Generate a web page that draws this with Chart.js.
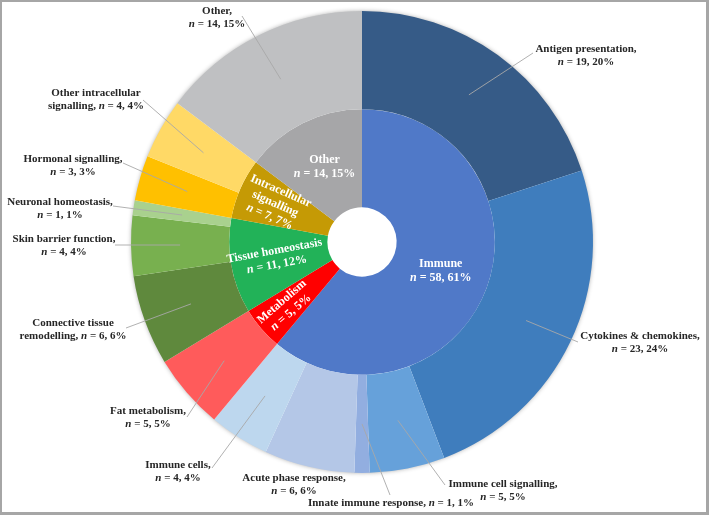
<!DOCTYPE html>
<html>
<head>
<meta charset="utf-8">
<script src="https://cdn.jsdelivr.net/npm/chart.js@4/dist/chart.umd.min.js"></script>
<style>
  html, body { margin: 0; padding: 0; background: #ffffff; }
  canvas { display: block; }
</style>
</head>
<body>
<canvas id="c" width="709" height="515"></canvas>
<script>
// ---------- DATA ----------
const innerLabels = ['Immune', 'Metabolism', 'Tissue homeostasis', 'Intracellular signalling', 'Other'];
const innerValues = [58, 5, 11, 7, 14];

const outerLabels = ['Antigen presentation', 'Cytokines & chemokines', 'Immune cell signalling',
  'Innate immune response', 'Acute phase response', 'Immune cells', 'Fat metabolism',
  'Connective tissue remodelling', 'Skin barrier function', 'Neuronal homeostasis',
  'Hormonal signalling', 'Other intracellular signalling', 'Other'];
const outerValues = [19, 23, 5, 1, 6, 4, 5, 6, 4, 1, 3, 4, 14];

// ---------- STYLE ----------
const innerColors = ['#5079C8', '#FF0000', '#22B258', '#C59A05', '#A6A6A8'];
const outerColors = ['#365B87', '#3F7DBD', '#66A1DA', '#92AEE0', '#B4C7E7', '#BDD7EE',
  '#FF5B5B', '#5F893D', '#78B04F', '#A9D18E', '#FFC000', '#FFD966', '#BFC0C2'];

// label layout: text-block centre (cx, first line y), words on first line (0 = single line), leader start
const outerLayout = [
  {cx: 586, y: 49,  brk: 2, lx: 533, ly: 53},
  {cx: 640, y: 336, brk: 3, lx: 578, ly: 342},
  {cx: 503, y: 484, brk: 3, lx: 445, ly: 485},
  {cx: 391, y: 503, brk: 0, lx: 390, ly: 495},
  {cx: 294, y: 478, brk: 3, lx: null, ly: null},
  {cx: 178, y: 465, brk: 2, lx: 212, ly: 468},
  {cx: 148, y: 411, brk: 2, lx: 187, ly: 417},
  {cx: 73,  y: 323, brk: 2, lx: 126, ly: 328},
  {cx: 64,  y: 239, brk: 3, lx: 115, ly: 245},
  {cx: 60,  y: 202, brk: 2, lx: 113, ly: 206},
  {cx: 73,  y: 159, brk: 2, lx: 123, ly: 163},
  {cx: 96,  y: 93,  brk: 2, lx: 143, ly: 100},
  {cx: 217, y: 11,  brk: 1, lx: 242, ly: 16}
];
// inner labels: word groups per line, radial shift, rotated along radius?
const innerLayout = [
  {lines: [1], shift: 0, rot: false},
  {lines: [1], shift: 16, rot: true},
  {lines: [2], shift: 4, rot: true},
  {lines: [1, 1], shift: 11, rot: true},
  {lines: [1], shift: 0, rot: false}
];

const TOTAL = innerValues.reduce((a, b) => a + b, 0);
const pct = v => Math.round(v / TOTAL * 100);

function drawRich(ctx, text, x, y, size, color) {
  // italic bold "n" before " =", otherwise bold
  const parts = text.split(/(\bn\b(?= =))/);
  const fontB = 'bold ' + size + 'px "Liberation Serif", "Times New Roman", serif';
  const fontI = 'italic bold ' + size + 'px "Liberation Serif", "Times New Roman", serif';
  let total = 0;
  const widths = parts.map((p, i) => {
    ctx.font = (p === 'n' && i % 2 === 1) ? fontI : fontB;
    const w = ctx.measureText(p).width; total += w; return w;
  });
  let cur = x - total / 2;
  ctx.fillStyle = color;
  ctx.textBaseline = 'middle';
  ctx.textAlign = 'left';
  parts.forEach((p, i) => {
    ctx.font = (p === 'n' && i % 2 === 1) ? fontI : fontB;
    ctx.fillText(p, cur, y);
    cur += widths[i];
  });
}

const decor = {
  id: 'decor',
  beforeDatasetsDraw(chart) {
    const ctx = chart.ctx;
    const a = chart.getDatasetMeta(0).data[0];
    ctx.save();
    ctx.beginPath();
    ctx.arc(a.x, a.y, a.outerRadius - 1, 0, Math.PI * 2);
    ctx.fillStyle = '#ffffff';
    ctx.shadowColor = 'rgba(0,0,0,0.45)';
    ctx.shadowBlur = 5;
    ctx.fill();
    ctx.restore();
  },
  afterDraw(chart) {
    const ctx = chart.ctx;
    ctx.save();
    // frame
    ctx.fillStyle = '#A6A6A6';
    ctx.fillRect(0, 0, 709, 2);
    ctx.fillRect(0, 0, 2, 515);
    ctx.fillRect(706, 0, 3, 515);
    ctx.fillRect(0, 512, 709, 3);

    // outer labels + leaders
    const outer = chart.getDatasetMeta(0).data;
    outer.forEach((arc, i) => {
      const L = outerLayout[i];
      const mid = (arc.startAngle + arc.endAngle) / 2;
      const r = (arc.innerRadius + arc.outerRadius) / 2;
      const px = arc.x + r * Math.cos(mid), py = arc.y + r * Math.sin(mid);
      if (L.lx !== null) {
        ctx.beginPath();
        ctx.moveTo(L.lx, L.ly);
        ctx.lineTo(px, py);
        ctx.strokeStyle = '#A8A8A8';
        ctx.lineWidth = 0.9;
        ctx.stroke();
      }
      const words = (outerLabels[i] + ', n = ' + outerValues[i] + ', ' + pct(outerValues[i]) + '%').split(' ');
      const lines = L.brk === 0 ? [words.join(' ')] : [words.slice(0, L.brk).join(' '), words.slice(L.brk).join(' ')];
      lines.forEach((t, k) => drawRich(ctx, t, L.cx, L.y + k * 13, 11, '#262626'));
    });

    // inner labels
    const inner = chart.getDatasetMeta(1).data;
    inner.forEach((arc, i) => {
      const L = innerLayout[i];
      const mid = (arc.startAngle + arc.endAngle) / 2;
      const r = (arc.innerRadius + arc.outerRadius) / 2 + L.shift;
      const cx = arc.x + r * Math.cos(mid), cy = arc.y + r * Math.sin(mid);
      const words = innerLabels[i].split(' ');
      const lines = [];
      let idx = 0;
      L.lines.forEach(n => { lines.push(words.slice(idx, idx + n).join(' ')); idx += n; });
      if (idx < words.length) lines.push(words.slice(idx).join(' '));
      lines.push('n = ' + innerValues[i] + ', ' + pct(innerValues[i]) + '%');
      ctx.save();
      ctx.translate(cx, cy);
      if (L.rot) ctx.rotate(mid + Math.PI);
      const lh = 14;
      const y0 = -(lines.length - 1) * lh / 2;
      lines.forEach((t, k) => drawRich(ctx, t, 0, y0 + k * lh, 12, '#ffffff'));
      ctx.restore();
    });
    ctx.restore();
  }
};

new Chart(document.getElementById('c'), {
  type: 'doughnut',
  data: {
    labels: outerLabels,
    datasets: [
      {data: outerValues, backgroundColor: outerColors, borderWidth: 0},
      {data: innerValues, backgroundColor: innerColors, borderWidth: 0}
    ]
  },
  options: {
    responsive: false,
    animation: false,
    devicePixelRatio: 1,
    cutout: '15%',
    layout: {padding: {left: 131, right: 116, top: 11, bottom: 42}},
    plugins: {legend: {display: false}, tooltip: {enabled: false}}
  },
  plugins: [decor]
});
</script>
</body>
</html>
